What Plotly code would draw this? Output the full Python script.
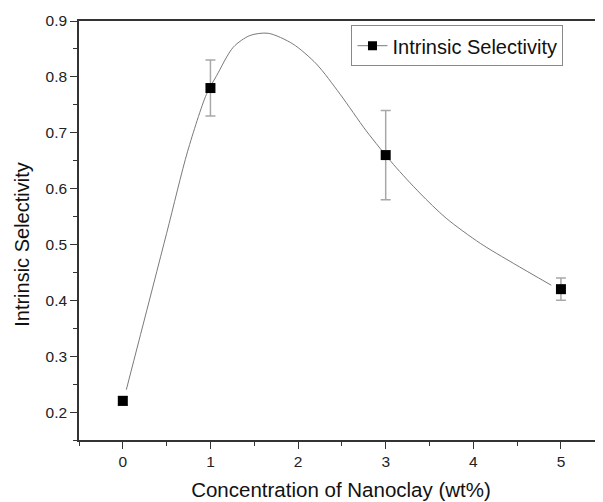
import plotly.graph_objects as go

conc = [0, 1, 3, 5]
selectivity = [0.22, 0.78, 0.66, 0.42]
err = [0.008, 0.05, 0.08, 0.02]

# Smooth fitted curve
curve_x = [0.04, 0.5, 0.74, 0.955, 1.07, 1.26, 1.45, 1.66, 1.94, 2.21, 2.48, 2.78, 3.09, 3.39, 3.69, 4.08, 4.46, 4.89]
curve_y = [0.24, 0.52, 0.667, 0.769, 0.802, 0.853, 0.874, 0.878, 0.859, 0.823, 0.769, 0.703, 0.643, 0.592, 0.547, 0.502, 0.466, 0.427]

x_ticks = [0, 1, 2, 3, 4, 5]
y_ticks = [0.2, 0.3, 0.4, 0.5, 0.6, 0.7, 0.8, 0.9]

series_name = "Intrinsic Selectivity"
x_title = "Concentration of Nanoclay (wt%)"
y_title = "Intrinsic Selectivity"

fig = go.Figure()
fig.add_trace(go.Scatter(
    x=curve_x, y=curve_y, mode="lines", line=dict(color="#7a7a7a", width=1, shape="spline", smoothing=0.8),
    showlegend=False, hoverinfo="skip"))
fig.add_trace(go.Scatter(
    x=conc, y=selectivity, mode="markers",
    marker=dict(symbol="square", size=10, color="black"),
    error_y=dict(type="data", array=err, visible=True, color="#a8a8a8", thickness=1.5, width=5),
    showlegend=False))
# legend entry (line-square-line symbol)
fig.add_trace(go.Scatter(
    x=[None], y=[None], mode="lines+markers", name=series_name,
    line=dict(color="#7a7a7a", width=1),
    marker=dict(symbol="square", size=9, color="black")))

font_family = "Liberation Sans, Arial, sans-serif"
axis_font = dict(family=font_family, size=15.5, color="#222")
fig.update_layout(
    width=595, height=494,
    margin=dict(l=71, r=0, t=13, b=62, autoexpand=False),
    plot_bgcolor="white", paper_bgcolor="white",
    font=dict(family=font_family, color="#222"),
    legend=dict(x=0.52, y=0.99, xanchor="left", yanchor="top",
                bordercolor="#888", borderwidth=1, bgcolor="white",
                font=dict(size=20, color="#111"), tracegroupgap=0,
                itemwidth=30),
    xaxis=dict(range=[-0.5, 5.48], tickvals=x_ticks, ticktext=[str(v) for v in x_ticks],
               ticks="outside", ticklen=7, tickwidth=1.3, tickcolor="#333",
               showline=True, linecolor="#333", linewidth=1.5, mirror=True,
               showgrid=False, zeroline=False, tickfont=axis_font, automargin=False,
               minor=dict(dtick=0.5, tick0=0.5, ticks="outside", ticklen=4, tickcolor="#333", tickwidth=1.3, showgrid=False),
               title=dict(text=x_title, font=dict(size=20.5, color="#111"), standoff=13)),
    yaxis=dict(range=[0.15, 0.9], tickvals=y_ticks, ticktext=[f"{v:.1f}" for v in y_ticks],
               ticks="outside", ticklen=7, tickwidth=1.3, tickcolor="#333",
               showline=True, linecolor="#333", linewidth=1.5,
               showgrid=False, zeroline=False, tickfont=axis_font, automargin=False,
               minor=dict(dtick=0.1, tick0=0.15, ticks="outside", ticklen=4, tickcolor="#333", tickwidth=1.3, showgrid=False)),
    annotations=[dict(text=y_title, textangle=-90, xref="paper", yref="paper",
                      x=-0.109, y=0.468, xanchor="center", yanchor="middle", showarrow=False,
                      font=dict(family=font_family, size=20, color="#111"))],
)

fig.write_html("out.html")
